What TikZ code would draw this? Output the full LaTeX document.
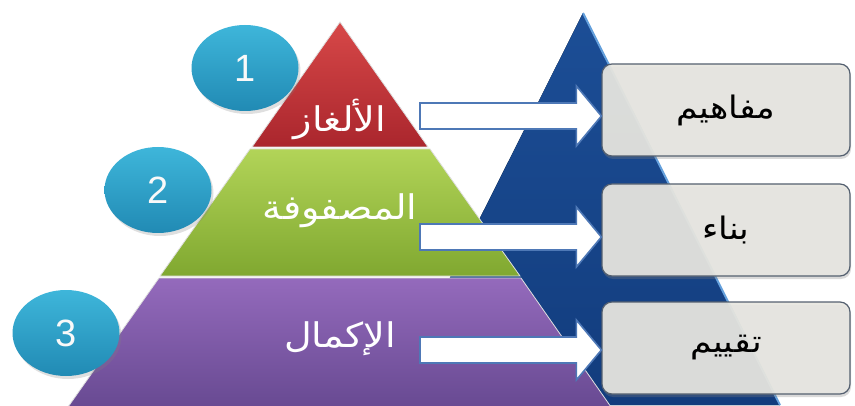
\documentclass[tikz,border=0pt]{standalone}
\usepackage{fontspec}
\setmainfont{Liberation Sans}
\newfontfamily\arabicfont[Script=Arabic, FakeStretch=1.12]{DejaVu Sans}
\TeXXeTstate=1
\usepackage{tikz}
\usetikzlibrary{calc, shapes.geometric, shadows}

\definecolor{redtop}{RGB}{215,72,72}
\definecolor{redbot}{RGB}{170,38,45}
\definecolor{greentop}{RGB}{178,212,88}
\definecolor{greenbot}{RGB}{128,168,48}
\definecolor{purptop}{RGB}{148,106,188}
\definecolor{purpbot}{RGB}{104,74,146}
\definecolor{navytop}{RGB}{28,78,150}
\definecolor{navybot}{RGB}{18,60,125}
\definecolor{navyedge}{RGB}{100,160,220}
\definecolor{balltop}{RGB}{62,182,218}
\definecolor{ballbot}{RGB}{33,138,180}
\definecolor{boxfill}{RGB}{231,230,224}
\definecolor{boxline}{RGB}{84,96,112}
\definecolor{arrowline}{RGB}{78,120,182}

\tikzset{
  layer/.style={draw=white!75!gray, line width=0.8pt},
  ball/.style={ellipse, minimum width=107pt, minimum height=86pt, inner sep=0pt,
    top color=balltop, bottom color=ballbot, text=white!95!gray,
    drop shadow={shadow xshift=2pt, shadow yshift=-3pt, opacity=0.25},
    font=\fontsize{38}{40}\selectfont},
  lbl/.style={text=white, font=\arabicfont\fontsize{34}{38}\selectfont},
  card/.style={rectangle, rounded corners=10pt, draw=boxline, line width=1.2pt,
    fill=boxfill, fill opacity=0.93, text opacity=1,
    minimum width=248pt, minimum height=92pt,
    drop shadow={shadow xshift=1pt, shadow yshift=-3pt, opacity=0.3},
    font=\arabicfont\fontsize{31}{34}\selectfont},
  fatarrow/.style={draw=arrowline, line width=1.6pt, fill=white},
}

\newcommand\fatarrow[2]{%
  \draw[fatarrow] let \p1=(#1), \p2=(#2.west) in
    (\x1,\y1+13pt) -- (\x2-25pt,\y1+13pt) -- (\x2-25pt,\y1+30pt) -- (\x2,\y1)
    -- (\x2-25pt,\y1-30pt) -- (\x2-25pt,\y1-13pt) -- (\x1,\y1-13pt) -- cycle;}

\begin{document}
\begin{tikzpicture}[x=1pt, y=1pt]
  \useasboundingbox (0,0) rectangle (855,405);
  \clip (0,0) rectangle (855,405);

  % blue triangle behind
  \fill[top color=navytop, bottom color=navybot] (583,392) -- (780,0) -- (386,0) -- cycle;
  \draw[navyedge, line width=2pt] (583,392) -- (780,0);

  % pyramid
  \path[layer, top color=purptop, bottom color=purpbot] (159,127) -- (521,127) -- (611,-2) -- (68,-2) -- cycle;
  \path[layer, top color=greentop, bottom color=greenbot] (250,256) -- (430,256) -- (520,129) -- (160,129) -- cycle;
  \path[layer, top color=redtop, bottom color=redbot] (340,383) -- (428,258) -- (252,258) -- cycle;

  \node[lbl] (puzzles) at (340,286) {\beginR الألغاز\endR};
  \node[lbl] (matrix) at (340,194) {\beginR المصفوفة\endR};
  \node[lbl] (complete) at (340,66) {\beginR الإكمال\endR};

  % numbers
  \node[ball] (one) at (245,337) {1};
  \node[ball] (two) at (158,215) {2};
  \node[ball] (three) at (66,72) {3};

  % boxes
  \node[card] (concepts) at (726,295) {\beginR مفاهيم\endR};
  \node[card] (build) at (726,175) {\beginR بناء\endR};
  \node[card] (assess) at (726,57) {\beginR تقييم\endR};

  \coordinate (s1) at (420,289);
  \coordinate (s2) at (420,168);
  \coordinate (s3) at (420,55);
  \fatarrow{s1}{concepts}
  \fatarrow{s2}{build}
  \fatarrow{s3}{assess}
\end{tikzpicture}
\end{document}
